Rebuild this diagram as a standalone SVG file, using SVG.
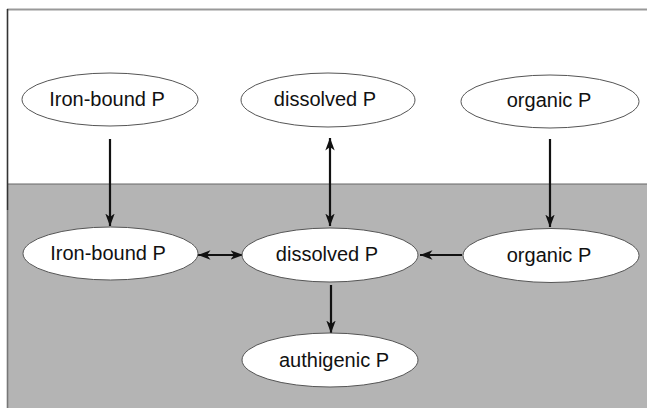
<svg xmlns="http://www.w3.org/2000/svg" width="647" height="408" viewBox="0 0 647 408">
<style>
.node ellipse{fill:#fff;stroke:#555;stroke-width:1}
.node text{font-family:"Liberation Sans",Arial,sans-serif;font-size:20px;fill:#111;text-anchor:middle}
.edge{stroke:#111;stroke-width:2.2;fill:none}
</style>
<defs>
<marker id="ah" viewBox="0 0 13 10" refX="12.5" refY="5" markerWidth="13" markerHeight="10" markerUnits="userSpaceOnUse" orient="auto-start-reverse">
<path d="M0,0.3 L12.8,5 L0,9.7 L3.5,5 z" fill="#111"/>
</marker>
</defs>
<rect x="0" y="0" width="647" height="408" fill="#fff"/>
<rect x="7" y="184" width="640" height="224" fill="#b4b4b4"/>
<line x1="7" y1="184" x2="647" y2="184" stroke="#666" stroke-width="1.2"/>
<line x1="7" y1="9.5" x2="647" y2="9.5" stroke="#999" stroke-width="2"/>
<line x1="7.5" y1="9" x2="7.5" y2="210" stroke="#333" stroke-width="1.6"/>
<line x1="7.5" y1="210" x2="7.5" y2="408" stroke="#777" stroke-width="1.6"/>
<g id="connectors">
<line class="edge" x1="110" y1="139" x2="110" y2="226" marker-end="url(#ah)"/>
<line class="edge" x1="330" y1="138" x2="330" y2="226" marker-start="url(#ah)" marker-end="url(#ah)"/>
<line class="edge" x1="550" y1="139" x2="550" y2="227" marker-end="url(#ah)"/>
<line class="edge" x1="198" y1="255" x2="243" y2="255" marker-start="url(#ah)" marker-end="url(#ah)"/>
<line class="edge" x1="462" y1="255" x2="420" y2="255" marker-end="url(#ah)"/>
<line class="edge" x1="331" y1="285" x2="331" y2="333" marker-end="url(#ah)"/>
</g>
<g id="iron-top" class="node"><ellipse cx="110" cy="99.5" rx="88" ry="26.5"/><text x="107" y="106">Iron-bound P</text></g>
<g id="dissolved-top" class="node"><ellipse cx="328" cy="100" rx="87" ry="27"/><text x="325" y="106">dissolved P</text></g>
<g id="organic-top" class="node"><ellipse cx="550" cy="101.5" rx="89" ry="26.5"/><text x="549" y="107">organic P</text></g>
<g id="iron-bottom" class="node"><ellipse cx="110.5" cy="253.5" rx="87.5" ry="26.5"/><text x="108" y="259.5">Iron-bound P</text></g>
<g id="dissolved-bottom" class="node"><ellipse cx="330" cy="255" rx="88" ry="27"/><text x="327" y="261">dissolved P</text></g>
<g id="organic-bottom" class="node"><ellipse cx="551" cy="255.5" rx="88" ry="27"/><text x="549" y="261.5">organic P</text></g>
<g id="authigenic" class="node"><ellipse cx="330" cy="360" rx="88" ry="27"/><text x="334" y="366.5">authigenic P</text></g>
</svg>
